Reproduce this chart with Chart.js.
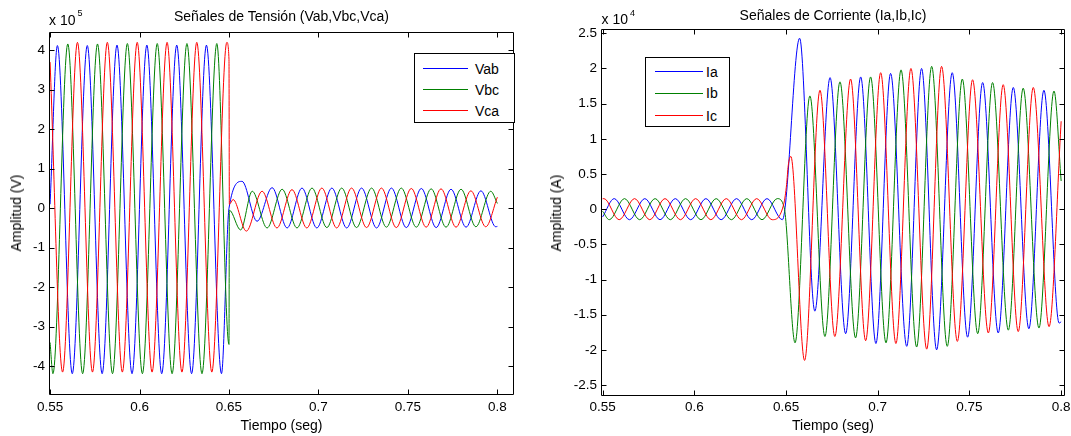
<!DOCTYPE html>
<html>
<head>
<meta charset="utf-8">
<script src="https://cdn.jsdelivr.net/npm/chart.js@4.4.1/dist/chart.umd.min.js"></script>
<style>
  html, body { margin: 0; padding: 0; background: #fff; overflow: hidden; }
  #wrap { position: relative; width: 1071px; height: 436px; font-family: 'Liberation Sans', Arial, sans-serif; color: #000; }
  canvas { position: absolute; top: 0; }
  .txt { position: absolute; white-space: nowrap; font-size: 14px; line-height: 14px; }
  .sup { position: relative; font-size: 9px; margin-left: 2px; }
  .ylab { position: absolute; white-space: nowrap; font-size: 14px; line-height: 14px; transform: translate(-50%, -50%) rotate(-90deg); }
  .legend { position: absolute; box-sizing: border-box; border: 1px solid #000; background: #fff; }
  .legend .ln { position: absolute; height: 0; border-top-width: 1px; border-top-style: solid; }
  .legend .lt { position: absolute; font-size: 14px; line-height: 14px; white-space: nowrap; }
</style>
</head>
<body>
<div id="wrap">
  <canvas id="volt_chart" width="535" height="436" style="left:0"></canvas>
  <canvas id="curr_chart" width="560" height="436" style="left:536px"></canvas>

  <div class="txt" style="left:49px;width:465px;top:8.9px;text-align:center">Señales de Tensión (Vab,Vbc,Vca)</div>
  <div class="txt" style="left:601px;width:464px;top:8.2px;text-align:center">Señales de Corriente (Ia,Ib,Ic)</div>

  <div class="txt" style="left:49px;top:12.9px">x 10<span class="sup" style="top:-9.4px">5</span></div>
  <div class="txt" style="left:601.5px;top:12.2px">x 10<span class="sup" style="top:-8px">4</span></div>

  <div class="ylab" style="left:15.5px;top:213px">Amplitud (V)</div>
  <div class="ylab" style="left:556px;top:212.5px">Amplitud (A)</div>

  <div class="txt" style="left:49px;width:465px;top:418.2px;text-align:center">Tiempo (seg)</div>
  <div class="txt" style="left:601px;width:464px;top:418.2px;text-align:center">Tiempo (seg)</div>

  <div class="legend" style="left:414px;top:53px;width:100.5px;height:70px">
    <div class="ln" style="left:8.3px;top:14px;width:45px;border-top-color:#0000ff"></div>
    <div class="ln" style="left:8.3px;top:35px;width:45px;border-top-color:#008000"></div>
    <div class="ln" style="left:8.3px;top:55.7px;width:45px;border-top-color:#ff0000"></div>
    <div class="lt" style="left:60px;top:8px">Vab</div>
    <div class="lt" style="left:60px;top:29px">Vbc</div>
    <div class="lt" style="left:60px;top:50px">Vca</div>
  </div>

  <div class="legend" style="left:645px;top:57px;width:84.5px;height:70px">
    <div class="ln" style="left:9px;top:12.7px;width:48.3px;border-top-color:#0000ff"></div>
    <div class="ln" style="left:9px;top:35px;width:48.3px;border-top-color:#008000"></div>
    <div class="ln" style="left:9px;top:56.7px;width:48.3px;border-top-color:#ff0000"></div>
    <div class="lt" style="left:60px;top:6.7px">Ia</div>
    <div class="lt" style="left:60px;top:28.3px">Ib</div>
    <div class="lt" style="left:60px;top:50.7px">Ic</div>
  </div>
</div>

<script>
// tick values and labels
const x_ticks = [0.55, 0.6, 0.65, 0.7, 0.75, 0.8];
const x_tick_labels = ['0.55', '0.6', '0.65', '0.7', '0.75', '0.8'];
const volt_y_ticks = [-4, -3, -2, -1, 0, 1, 2, 3, 4];
const volt_y_labels = ['-4', '-3', '-2', '-1', '0', '1', '2', '3', '4'];
const curr_y_ticks = [-2.5, -2, -1.5, -1, -0.5, 0, 0.5, 1, 1.5, 2, 2.5];
const curr_y_labels = ['-2.5', '-2', '-1.5', '-1', '-0.5', '0', '0.5', '1', '1.5', '2', '2.5'];

const volt_names = ['Vab', 'Vbc', 'Vca'];
const curr_names = ['Ia', 'Ib', 'Ic'];

// [tiempo (s), tension (x 1e5 V)] read at peaks, troughs and breaks
const vab = [
  [0.5500, 0.10], [0.5541, 4.12], [0.5624, -4.19], [0.5708, 4.12], [0.5791, -4.19], [0.5874, 4.13],
  [0.5958, -4.19], [0.6041, 4.13], [0.6124, -4.19], [0.6208, 4.13], [0.6291, -4.19], [0.6374, 4.13],
  [0.6458, -4.19], [0.6500, 0.00], [0.6573, 0.68], [0.6657, -0.33], [0.6741, 0.52], [0.6825, -0.50],
  [0.6908, 0.51], [0.6991, -0.50], [0.7075, 0.51], [0.7158, -0.50], [0.7241, 0.51], [0.7325, -0.50],
  [0.7408, 0.51], [0.7491, -0.49], [0.7575, 0.50], [0.7658, -0.49], [0.7741, 0.48], [0.7825, -0.48],
  [0.7908, 0.44], [0.7991, -0.47], [0.8000, -0.46],
];
const vbc = [
  [0.5500, -3.40], [0.5516, -4.19], [0.5599, 4.16], [0.5682, -4.19], [0.5765, 4.16], [0.5849, -4.19],
  [0.5932, 4.17], [0.6016, -4.19], [0.6099, 4.17], [0.6182, -4.19], [0.6265, 4.17], [0.6349, -4.19],
  [0.6432, 4.17], [0.6500, -3.45], [0.6502, -0.05], [0.6565, -0.55], [0.6630, 0.43], [0.6713, -0.50],
  [0.6797, 0.48], [0.6880, -0.50], [0.6964, 0.51], [0.7047, -0.49], [0.7130, 0.51], [0.7213, -0.49],
  [0.7297, 0.51], [0.7380, -0.48], [0.7463, 0.51], [0.7547, -0.48], [0.7630, 0.49], [0.7713, -0.48],
  [0.7797, 0.48], [0.7880, -0.47], [0.7963, 0.43], [0.8000, 0.12],
];
const vca = [
  [0.5500, 3.70], [0.5570, -4.15], [0.5653, 4.20], [0.5737, -4.15], [0.5820, 4.20], [0.5904, -4.15],
  [0.5987, 4.20], [0.6070, -4.15], [0.6154, 4.20], [0.6237, -4.15], [0.6320, 4.20], [0.6404, -4.15],
  [0.6488, 4.20], [0.6500, 3.77], [0.6502, 0.10], [0.6523, 0.22], [0.6597, -0.58], [0.6685, 0.43],
  [0.6768, -0.50], [0.6852, 0.47], [0.6935, -0.50], [0.7019, 0.51], [0.7102, -0.50], [0.7185, 0.51],
  [0.7269, -0.49], [0.7352, 0.51], [0.7435, -0.49], [0.7519, 0.50], [0.7602, -0.48], [0.7685, 0.49],
  [0.7769, -0.48], [0.7852, 0.44], [0.7935, -0.47], [0.8000, 0.28],
];

// [tiempo (s), corriente (x 1e4 A)]
const ia = [
  [0.5500, -0.11], [0.5563, 0.15], [0.5646, -0.15], [0.5730, 0.15], [0.5813, -0.15], [0.5896, 0.15],
  [0.5980, -0.15], [0.6063, 0.15], [0.6146, -0.15], [0.6230, 0.15], [0.6313, -0.15], [0.6396, 0.15],
  [0.6480, -0.15], [0.6574, 2.43], [0.6657, -1.45], [0.6740, 1.87], [0.6825, -1.77], [0.6907, 1.88],
  [0.6990, -1.91], [0.7070, 1.93], [0.7158, -1.95], [0.7239, 2.00], [0.7321, -2.00], [0.7406, 1.94],
  [0.7490, -1.82], [0.7572, 1.80], [0.7657, -1.76], [0.7739, 1.73], [0.7824, -1.70], [0.7906, 1.69],
  [0.7989, -1.62], [0.8000, -1.60],
];
const ib = [
  [0.5500, -0.03], [0.5536, -0.15], [0.5619, 0.15], [0.5702, -0.15], [0.5786, 0.15], [0.5869, -0.15],
  [0.5952, 0.15], [0.6036, -0.15], [0.6119, 0.15], [0.6202, -0.15], [0.6286, 0.15], [0.6369, -0.15],
  [0.6452, 0.15], [0.6490, 0.02], [0.6549, -1.90], [0.6630, 1.61], [0.6712, -1.81], [0.6794, 1.81],
  [0.6879, -1.83], [0.6961, 1.88], [0.7045, -1.90], [0.7127, 1.98], [0.7212, -1.96], [0.7294, 2.03],
  [0.7379, -1.95], [0.7461, 1.85], [0.7545, -1.77], [0.7626, 1.80], [0.7712, -1.72], [0.7793, 1.72],
  [0.7879, -1.69], [0.7961, 1.68], [0.8000, 0.40],
];
const ic = [
  [0.5500, 0.148], [0.5507, 0.15], [0.5590, -0.15], [0.5674, 0.15], [0.5757, -0.15], [0.5840, 0.15],
  [0.5924, -0.15], [0.6007, 0.15], [0.6090, -0.15], [0.6174, 0.15], [0.6257, -0.15], [0.6340, 0.15],
  [0.6424, -0.15], [0.6488, 0.08], [0.6503, 0.35], [0.6512, 0.62], [0.6526, 0.75], [0.6601, -2.15],
  [0.6685, 1.69], [0.6766, -1.81], [0.6852, 1.85], [0.6934, -1.87], [0.7016, 1.94], [0.7099, -1.91],
  [0.7181, 2.00], [0.7267, -1.99], [0.7348, 2.03], [0.7434, -1.88], [0.7517, 1.84], [0.7603, -1.76],
  [0.7684, 1.77], [0.7766, -1.74], [0.7848, 1.73], [0.7934, -1.67], [0.8000, 1.25],
];

const line_colors = ['#0000ff', '#008000', '#ff0000'];
const tick_font = { family: 'Liberation Sans', size: 13.5 };

// matlab style box with inward ticks on all four sides
const matlab_box = {
  id: 'matlab_box',
  afterDatasetsDraw(chart) {
    const { ctx, chartArea: a, scales: { x, y } } = chart;
    const left = Math.round(a.left) + 0.5;
    const right = Math.round(a.right) - 0.5;
    const top = Math.round(a.top) + 0.5;
    const bottom = Math.round(a.bottom) - 0.5;
    ctx.save();
    ctx.strokeStyle = '#000';
    ctx.lineWidth = 1;
    ctx.beginPath();
    x.ticks.forEach(t => {
      const px = Math.round(x.getPixelForValue(t.value)) + 0.5;
      ctx.moveTo(px, bottom); ctx.lineTo(px, bottom - 5);
      ctx.moveTo(px, top); ctx.lineTo(px, top + 5);
    });
    y.ticks.forEach(t => {
      const py = Math.round(y.getPixelForValue(t.value)) + 0.5;
      ctx.moveTo(left, py); ctx.lineTo(left + 5, py);
      ctx.moveTo(right, py); ctx.lineTo(right - 5, py);
    });
    ctx.rect(left, top, right - left, bottom - top);
    ctx.stroke();
    ctx.restore();
  },
};

const build_chart = (canvas_id, names, series, area, x_range, y_range, y_ticks, y_labels) => {
  const datasets = series.map((pairs, i) => ({
    label: names[i],
    data: pairs.map(([x, y]) => ({ x, y })),
    borderColor: line_colors[i],
    borderWidth: 1,
    pointRadius: 0,
    cubicInterpolationMode: 'monotone',
    fill: false,
    order: 3 - i,
  }));

  return new Chart(canvas_id, {
    type: 'line',
    data: { datasets },
    options: {
      responsive: false,
      animation: false,
      events: [],
      layout: { padding: { left: 0, top: area.top, right: area.right_pad, bottom: 0 } },
      plugins: { legend: { display: false }, tooltip: { enabled: false } },
      scales: {
        x: {
          type: 'linear',
          min: x_range[0],
          max: x_range[1],
          afterBuildTicks: s => { s.ticks = x_ticks.map(v => ({ value: v })); },
          afterFit: s => { s.height = area.x_height; },
          ticks: {
            callback: (v, i) => x_tick_labels[i],
            font: tick_font, color: '#000', padding: area.x_pad,
            maxRotation: 0, autoSkip: false,
          },
          grid: { display: false, drawTicks: false },
          border: { display: false },
        },
        y: {
          type: 'linear',
          min: y_range[0],
          max: y_range[1],
          afterBuildTicks: s => { s.ticks = y_ticks.map(v => ({ value: v })); },
          afterFit: s => { s.width = area.left; },
          ticks: {
            callback: (v, i) => y_labels[i],
            font: tick_font, color: '#000', padding: 4, autoSkip: false,
          },
          grid: { display: false, drawTicks: false },
          border: { display: false },
        },
      },
    },
    plugins: [matlab_box],
  });
};

build_chart('volt_chart', volt_names, [vab, vbc, vca],
  { left: 49, top: 31.7, right_pad: 21, x_height: 41, x_pad: 4.5 },
  [0.5494, 0.8093], [-4.73, 4.47], volt_y_ticks, volt_y_labels);

build_chart('curr_chart', curr_names, [ia, ib, ic],
  { left: 65, top: 29.3, right_pad: 31, x_height: 40, x_pad: 3 },
  [0.5491, 0.8021], [-2.656, 2.557], curr_y_ticks, curr_y_labels);
</script>
</body>
</html>
